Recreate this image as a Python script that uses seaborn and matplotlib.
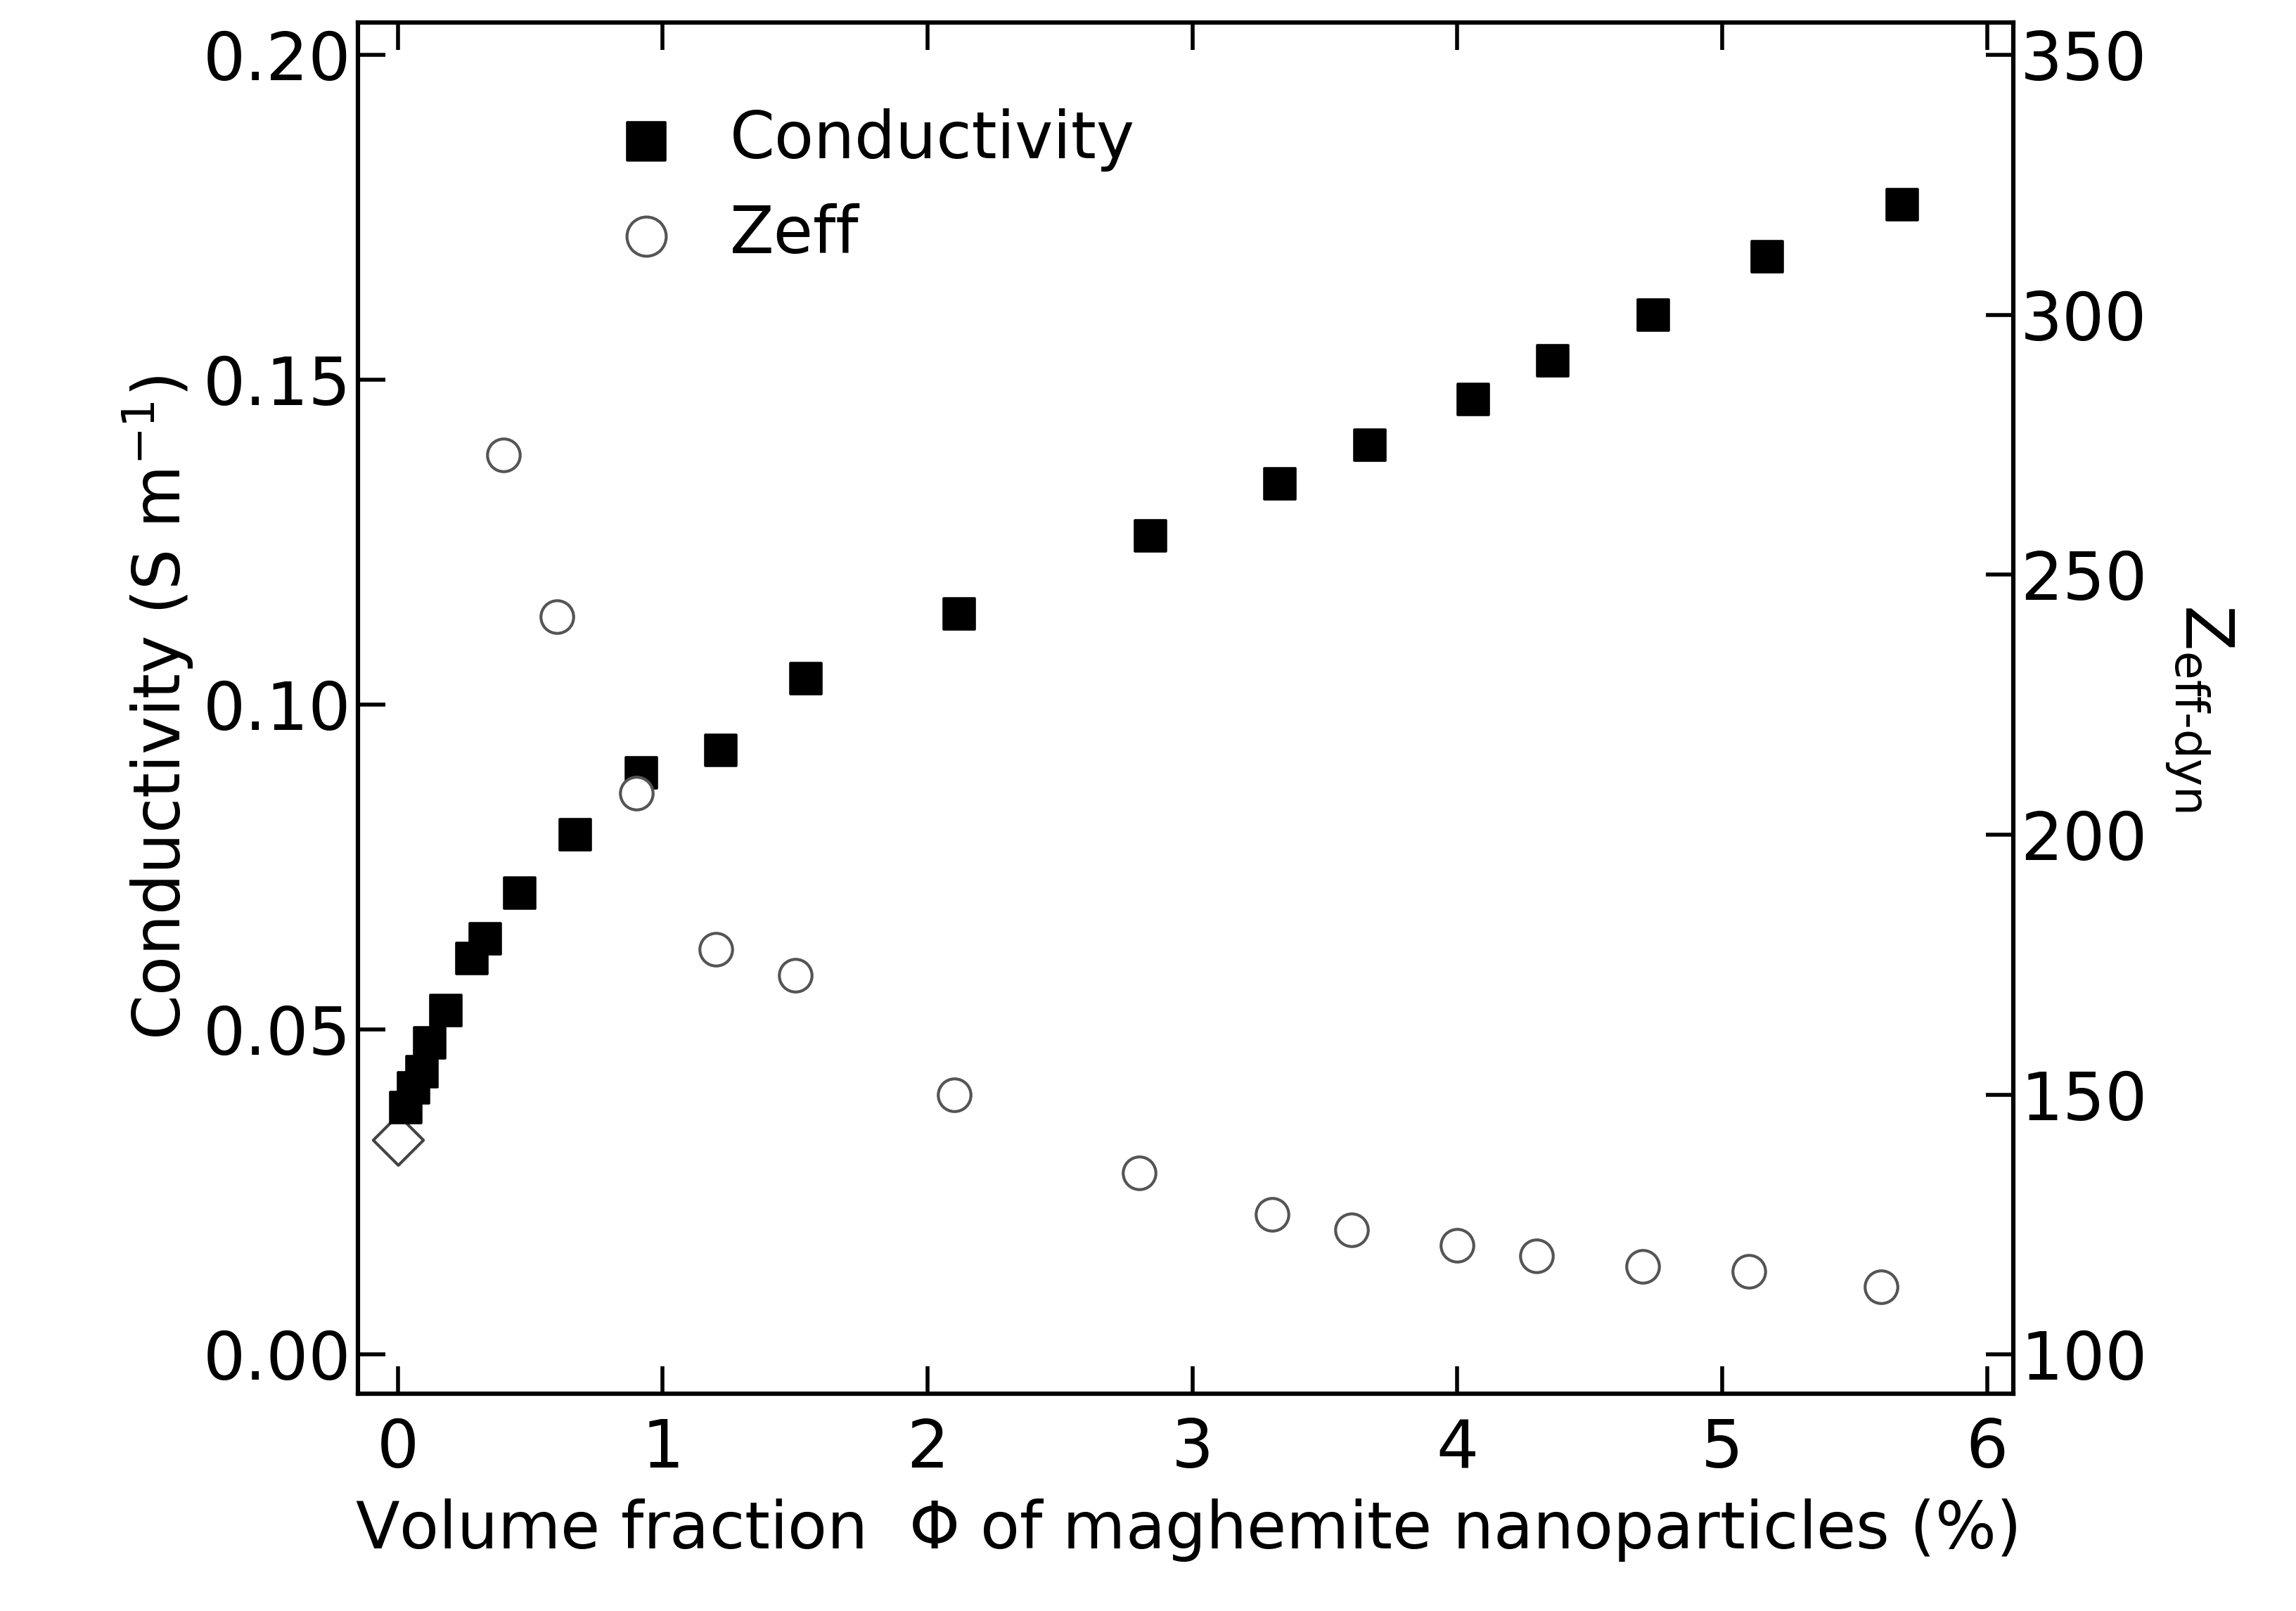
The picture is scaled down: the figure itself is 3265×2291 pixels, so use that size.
import numpy as np
import pandas as pd
import matplotlib
matplotlib.use("Agg")
import matplotlib.pyplot as plt
import seaborn as sns

# conductivity data (S/m) vs volume fraction (%)
phi_cond = [0.03, 0.06, 0.09, 0.12, 0.18, 0.28, 0.33, 0.46, 0.67, 0.92, 1.22,
            1.54, 2.12, 2.84, 3.33, 3.67, 4.06, 4.36, 4.74, 5.17, 5.68]
conductivity = [0.038, 0.041, 0.0435, 0.048, 0.053, 0.061, 0.064, 0.071, 0.080,
                0.0895, 0.093, 0.104, 0.114, 0.126, 0.134, 0.140, 0.147, 0.153,
                0.160, 0.169, 0.177]

# pure solvent point
phi_zero = [0.0]
cond_zero = [0.033]

# Zeff-dyn data
phi_zeff = [0.40, 0.60, 0.90, 1.20, 1.50, 2.10, 2.80, 3.30, 3.60, 4.00, 4.30,
            4.70, 5.10, 5.60]
zeff = [273, 242, 208, 178, 173, 150, 135, 127, 124, 121, 119, 117, 116, 113]

df_c = pd.DataFrame({"phi": phi_cond, "cond": conductivity})
df_z = pd.DataFrame({"phi": phi_zeff, "zeff": zeff})
df_0 = pd.DataFrame({"phi": phi_zero, "cond": cond_zero})

sns.set_style("ticks")
plt.rcParams["font.family"] = "DejaVu Sans"
plt.rcParams["mathtext.fontset"] = "dejavusans"
plt.rcParams["text.color"] = "black"
plt.rcParams["axes.labelcolor"] = "black"
plt.rcParams["xtick.color"] = "black"
plt.rcParams["ytick.color"] = "black"
plt.rcParams["axes.edgecolor"] = "black"

fig = plt.figure(figsize=(16.325, 11.455), dpi=200)
ax = fig.add_axes([0.156, 0.135, 0.721, 0.851])
ax2 = ax.twinx()

sns.scatterplot(data=df_c, x="phi", y="cond", ax=ax, marker="s", s=260,
                color="black", edgecolor="black", label="Conductivity", zorder=3)
sns.scatterplot(data=df_0, x="phi", y="cond", ax=ax, marker="D", s=330,
                facecolor="white", edgecolor="#444444", linewidth=1.5,
                legend=False, zorder=2)
sns.scatterplot(data=df_z, x="phi", y="zeff", ax=ax2, marker="o", s=280,
                facecolor="white", edgecolor="#555555", linewidth=1.5,
                label="Zeff", zorder=3)

ax.set_xlim(-0.15, 6.1)
ax.set_ylim(-0.006, 0.205)
# align right axis: 100 at y=0, 350 at y=0.2
ax2.set_ylim(100 + (-0.006) / 0.2 * 250, 100 + 0.205 / 0.2 * 250)

ax.set_xticks(range(0, 7))
ax.set_yticks([0.0, 0.05, 0.10, 0.15, 0.20])
ax.set_yticklabels(["0.00", "0.05", "0.10", "0.15", "0.20"])
ax2.set_yticks([100, 150, 200, 250, 300, 350])

for a in (ax, ax2):
    a.tick_params(direction="in", length=14, width=2, labelsize=34)
    for s in a.spines.values():
        s.set_linewidth(2.2)
ax.tick_params(axis="x", top=True, pad=12)

ax.set_xlabel(r"Volume fraction  $\Phi$ of maghemite nanoparticles (%)", fontsize=33, labelpad=8)
ax.set_ylabel(r"Conductivity (S m$^{-1}$)", fontsize=33)
ax2.set_ylabel(r"Z$_{\mathrm{eff\text{-}dyn}}$", fontsize=34, rotation=-90, labelpad=45)

h1, l1 = ax.get_legend_handles_labels()
h2, l2 = ax2.get_legend_handles_labels()
if ax.get_legend():
    ax.get_legend().remove()
if ax2.get_legend():
    ax2.get_legend().remove()
ax.legend(h1 + h2, l1 + l2, loc="upper left", bbox_to_anchor=(0.1, 0.98),
          frameon=False, fontsize=33, handletextpad=0.3, markerscale=1.2)

fig.savefig("out.png", dpi=200)
